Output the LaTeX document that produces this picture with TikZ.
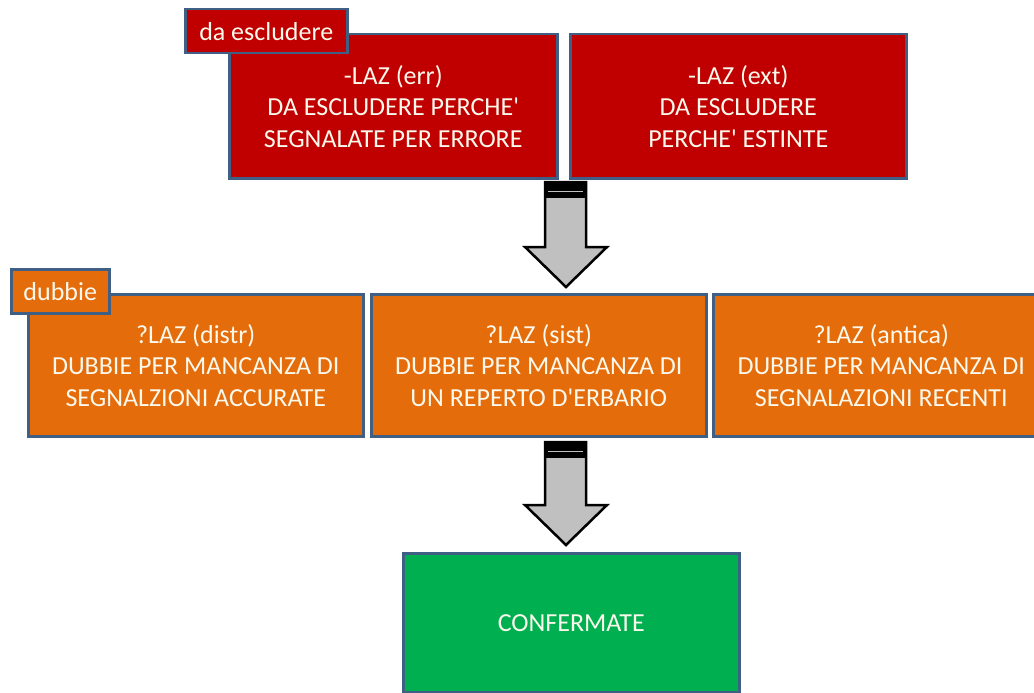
\documentclass[tikz,border=0pt]{standalone}
\usepackage{fontspec}
\setmainfont{Carlito}
\definecolor{redc}{HTML}{C00000}
\definecolor{orangec}{HTML}{E46C0A}
\definecolor{greenc}{HTML}{00B050}
\definecolor{bordc}{HTML}{3F5F85}
\definecolor{txtc}{HTML}{FBF8EC}
\definecolor{arrgray}{HTML}{C0C0C0}
\tikzset{
  box/.style={draw=bordc, line width=2.5pt, text=txtc, align=center,
    font=\fontsize{26}{31.5}\selectfont, inner sep=0pt, anchor=north west},
  tagbox/.style={box, font=\fontsize{26}{31}\selectfont},
  blockarrow/.style={fill=arrgray, draw=black, line width=2.5pt, line join=miter},
}
\newcommand{\apo}{\textquotesingle}
\begin{document}
\begin{tikzpicture}[x=1pt,y=-1pt]
\useasboundingbox[fill=white] (0,0) rectangle (1034,693);

% red row
\node[box, fill=redc, minimum width=328pt, minimum height=144pt] (err) at (228,33)
  {-LAZ (err)\\DA ESCLUDERE PERCHE\apo\\SEGNALATE PER ERRORE};
\node[box, fill=redc, minimum width=336pt, minimum height=144pt] (ext) at (569,33)
  {-LAZ (ext)\\DA ESCLUDERE\\PERCHE\apo{} ESTINTE};
\node[tagbox, fill=redc, minimum width=162pt, minimum height=44pt] (tagerr) at (184,8)
  {da escludere};

% arrow 1
\draw[blockarrow] (545,182) -- (586,182) -- (586,247) -- (607,247) -- (566,287)
  -- (525,247) -- (545,247) -- cycle;
\fill[black] (545,182) rectangle (586,198);
\draw[arrgray, line width=1pt] (548,191) -- (583,191);

% orange row
\node[box, fill=orangec, minimum width=335pt, minimum height=142pt] (distr) at (27,293)
  {?LAZ (distr)\\DUBBIE PER MANCANZA DI\\SEGNALZIONI ACCURATE};
\node[box, fill=orangec, minimum width=335pt, minimum height=142pt] (sist) at (370,293)
  {?LAZ (sist)\\DUBBIE PER MANCANZA DI\\UN REPERTO D\apo ERBARIO};
\node[box, fill=orangec, minimum width=336pt, minimum height=142pt] (antica) at (712,293)
  {?LAZ (antica)\\DUBBIE PER MANCANZA DI\\SEGNALAZIONI RECENTI};
\node[tagbox, fill=orangec, minimum width=98pt, minimum height=44pt] (tagdub) at (10,268)
  {dubbie};

% arrow 2
\draw[blockarrow] (545,442) -- (586,442) -- (586,505) -- (607,505) -- (566,545)
  -- (525,505) -- (545,505) -- cycle;
\fill[black] (545,442) rectangle (586,458);
\draw[arrgray, line width=1pt] (548,451) -- (583,451);

% green
\node[box, fill=greenc, minimum width=336pt, minimum height=139pt] (conf) at (402,552)
  {CONFERMATE};
\end{tikzpicture}
\end{document}
